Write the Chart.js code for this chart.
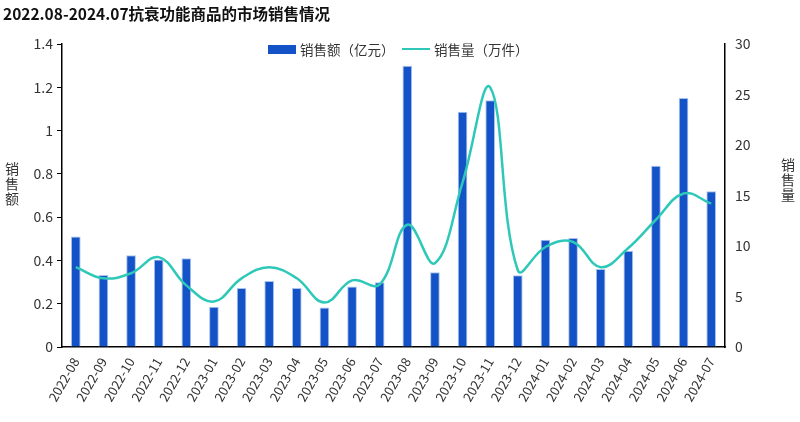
<!DOCTYPE html>
<html>
<head>
<meta charset="utf-8">
<script src="https://cdn.jsdelivr.net/npm/chart.js@4"></script>
<style>
  html, body { margin: 0; padding: 0; background: #fff; }
  #wrap { position: relative; width: 800px; height: 422px; font-family: "Noto Sans CJK SC", "Noto Sans", sans-serif; color: #333; }
  canvas { display: block; }
  #title { position: absolute; left: 3px; top: 2px; font-size: 15.5px; font-weight: bold; color: #111; white-space: nowrap; }
  .legend { position: absolute; top: 39px; font-size: 13.5px; color: #333; display: flex; align-items: center; white-space: nowrap; }
  .swatch-bar { width: 28px; height: 9px; background: #1452c8; margin-right: 4px; }
  .swatch-line { width: 28px; height: 2.5px; background: #2ec8b8; margin-right: 4px; }
</style>
</head>
<body>
<div id="wrap">
  <canvas id="chart" width="800" height="422"></canvas>
  <div id="title">2022.08-2024.07抗衰功能商品的市场销售情况</div>
  <div class="legend" style="left:268px"><span class="swatch-bar"></span>销售额（亿元）</div>
  <div class="legend" style="left:402px"><span class="swatch-line"></span>销售量（万件）</div>
</div>
<script>
const months = ["2022-08", "2022-09", "2022-10", "2022-11", "2022-12", "2023-01", "2023-02", "2023-03",
  "2023-04", "2023-05", "2023-06", "2023-07", "2023-08", "2023-09", "2023-10", "2023-11",
  "2023-12", "2024-01", "2024-02", "2024-03", "2024-04", "2024-05", "2024-06", "2024-07"];

// 销售额（亿元）
const salesAmount = [0.51, 0.333, 0.424, 0.404, 0.41, 0.186, 0.273, 0.305,
  0.273, 0.183, 0.28, 0.299, 1.30, 0.345, 1.087, 1.14,
  0.331, 0.496, 0.504, 0.36, 0.445, 0.838, 1.15, 0.72];

// 销售量（万件）
const salesVolume = [7.9, 6.8, 7.3, 8.9, 6.1, 4.5, 6.8, 7.9,
  6.8, 4.4, 6.6, 6.2, 12.1, 8.3, 16.3, 25.7,
  7.6, 9.9, 10.4, 7.9, 9.8, 12.6, 15.2, 14.2];

const leftTicks = [0, 0.2, 0.4, 0.6, 0.8, 1, 1.2, 1.4];
const rightTicks = [0, 5, 10, 15, 20, 25, 30];
const leftTitle = "销售额";
const rightTitle = "销售量";

// vertical (stacked) axis titles, one character per line
const stackedTitles = {
  id: "stackedTitles",
  afterDraw(chart) {
    const c = chart.ctx;
    c.save();
    c.fillStyle = "#333";
    c.font = "14px 'Noto Sans CJK SC'";
    c.textAlign = "center";
    c.textBaseline = "middle";
    const draw = (text, x, mid) => {
      const chars = [...text];
      const lh = 15;
      const start = mid - (chars.length - 1) * lh / 2;
      chars.forEach((ch, i) => c.fillText(ch, x, start + i * lh));
    };
    draw(leftTitle, 12, 184);
    draw(rightTitle, 788, 180);
    c.restore();
  }
};

const ctx = document.getElementById("chart").getContext("2d");

new Chart(ctx, {
  data: {
    labels: months,
    datasets: [
      {
        type: "line",
        label: "销售量（万件）",
        data: salesVolume,
        yAxisID: "y1",
        borderColor: "#2ec8b8",
        borderWidth: 2.5,
        pointRadius: 0,
        tension: 0.4,
        fill: false
      },
      {
        type: "bar",
        label: "销售额（亿元）",
        data: salesAmount,
        yAxisID: "y",
        backgroundColor: "#1452c8",
        borderColor: "#a9c2ee",
        borderWidth: 1,
        categoryPercentage: 0.7,
        barPercentage: 0.5
      }
    ]
  },
  options: {
    responsive: false,
    animation: false,
    layout: { padding: { top: 44, left: 0, right: 0, bottom: 0 } },
    plugins: {
      legend: { display: false },
      tooltip: { enabled: false }
    },
    scales: {
      x: {
        offset: true,
        grid: { display: false, drawTicks: false },
        border: { display: true, color: "#000", width: 1.5 },
        ticks: {
          minRotation: 60,
          maxRotation: 60,
          padding: 8,
          color: "#333",
          font: { family: "Noto Sans CJK SC", size: 13 }
        },
        afterFit: scale => { scale.height = 75; }
      },
      y: {
        position: "left",
        min: 0,
        max: 1.4,
        afterBuildTicks: scale => { scale.ticks = leftTicks.map(v => ({ value: v })); },
        grid: { drawOnChartArea: false, drawTicks: true, tickLength: 5, color: "#000" },
        border: { display: true, color: "#000", width: 1.5 },
        ticks: {
          padding: 4,
          color: "#333",
          font: { family: "Noto Sans CJK SC", size: 14 },
          callback: value => String(value)
        },
        afterFit: scale => { scale.width = 62; }
      },
      y1: {
        position: "right",
        min: 0,
        max: 30,
        afterBuildTicks: scale => { scale.ticks = rightTicks.map(v => ({ value: v })); },
        grid: { drawOnChartArea: false, drawTicks: true, tickLength: 5, color: "transparent" },
        border: { display: true, color: "#000", width: 1.5 },
        ticks: {
          padding: 5,
          color: "#333",
          font: { family: "Noto Sans CJK SC", size: 14 },
          callback: value => String(value)
        },
        afterFit: scale => { scale.width = 75; }
      }
    }
  },
  plugins: [stackedTitles]
});
</script>
</body>
</html>
